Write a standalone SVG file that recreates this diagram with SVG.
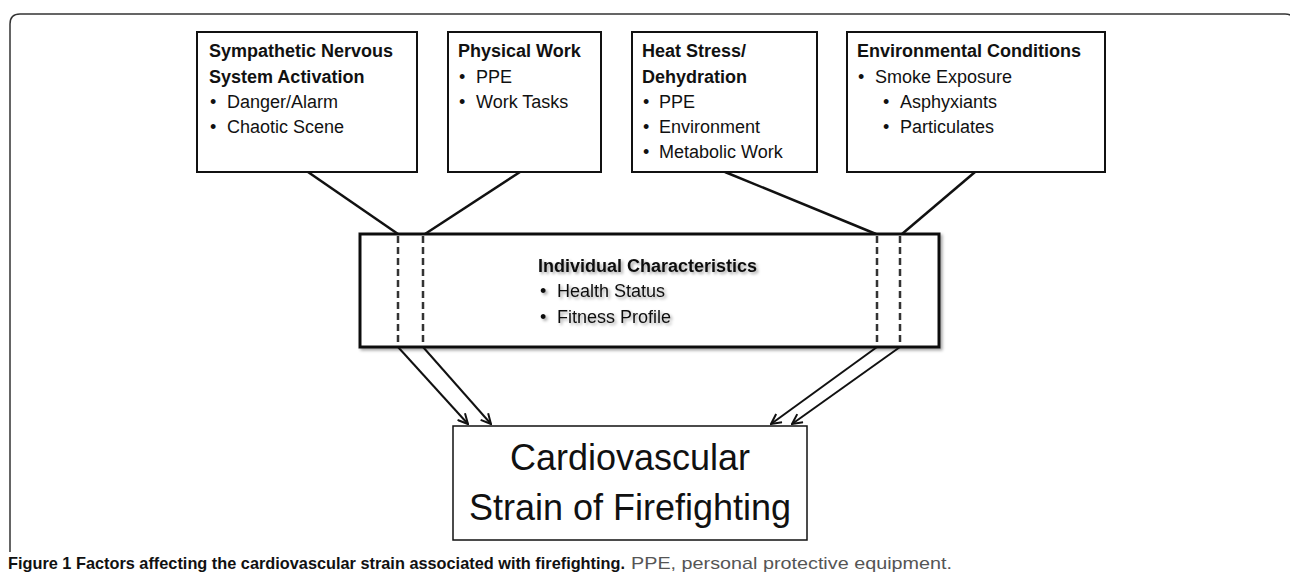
<svg xmlns="http://www.w3.org/2000/svg" width="1290" height="581" viewBox="0 0 1290 581">
<style>
  text { font-family: "Liberation Sans", Arial, sans-serif; fill: #111; }
  .t { font-size: 18px; }
  .b { font-weight: bold; }
  .box { fill: #fff; stroke: #111; stroke-width: 2; }
  .mid { fill: #fff; stroke: #111; stroke-width: 3; }
  .ln { stroke: #111; stroke-width: 2.5; fill: none; }
  .dash { stroke: #333; stroke-width: 2.5; stroke-dasharray: 7 4; fill: none; }
  .arr { stroke: #111; stroke-width: 2; fill: none; }
</style>
<defs>
  <filter id="sh" x="-10%" y="-10%" width="130%" height="140%">
    <feDropShadow dx="2" dy="2" stdDeviation="1.5" flood-color="#000" flood-opacity="0.35"/>
  </filter>
  <marker id="ah" viewBox="0 0 12 12" refX="11" refY="6" markerWidth="12" markerHeight="12" markerUnits="userSpaceOnUse" orient="auto">
    <path d="M1,1 L11,6 L1,11" fill="none" stroke="#111" stroke-width="2"/>
  </marker>
</defs>
<rect width="1290" height="581" fill="#fff"/>
<path d="M10,552 V24 Q10,14 20,14 H1285 Q1295,14 1295,24 V552" fill="none" stroke="#333" stroke-width="1.5"/>

<g id="connectors">
  <line class="ln" x1="308" y1="172" x2="398" y2="234"/>
  <line class="ln" x1="520" y1="172" x2="425" y2="234"/>
  <line class="ln" x1="725" y1="172" x2="876" y2="234"/>
  <line class="ln" x1="975" y1="172" x2="902" y2="234"/>
  <line class="arr" x1="398" y1="347" x2="468" y2="424" marker-end="url(#ah)"/>
  <line class="arr" x1="423" y1="347" x2="491" y2="424" marker-end="url(#ah)"/>
  <line class="arr" x1="877" y1="347" x2="771" y2="424" marker-end="url(#ah)"/>
  <line class="arr" x1="900" y1="347" x2="792" y2="424" marker-end="url(#ah)"/>
</g>

<g id="node-sympathetic">
  <rect class="box" x="197" y="32" width="220" height="140"/>
  <text class="t b" x="209" y="57">Sympathetic Nervous</text>
  <text class="t b" x="209" y="83">System Activation</text>
  <text class="t" x="210" y="108">•</text><text class="t" x="227" y="108">Danger/Alarm</text>
  <text class="t" x="210" y="133">•</text><text class="t" x="227" y="133">Chaotic Scene</text>
</g>

<g id="node-physical">
  <rect class="box" x="448" y="32" width="153" height="140"/>
  <text class="t b" x="458" y="57">Physical Work</text>
  <text class="t" x="459" y="83">•</text><text class="t" x="476" y="83">PPE</text>
  <text class="t" x="459" y="108">•</text><text class="t" x="476" y="108">Work Tasks</text>
</g>

<g id="node-heat">
  <rect class="box" x="632" y="32" width="185" height="140"/>
  <text class="t b" x="642" y="57">Heat Stress/</text>
  <text class="t b" x="642" y="83">Dehydration</text>
  <text class="t" x="643" y="108">•</text><text class="t" x="659" y="108">PPE</text>
  <text class="t" x="643" y="133">•</text><text class="t" x="659" y="133">Environment</text>
  <text class="t" x="643" y="158">•</text><text class="t" x="659" y="158">Metabolic Work</text>
</g>

<g id="node-environmental">
  <rect class="box" x="847" y="32" width="258" height="140"/>
  <text class="t b" x="857" y="57">Environmental Conditions</text>
  <text class="t" x="858" y="83">•</text><text class="t" x="875" y="83">Smoke Exposure</text>
  <text class="t" x="883" y="108">•</text><text class="t" x="900" y="108">Asphyxiants</text>
  <text class="t" x="883" y="133">•</text><text class="t" x="900" y="133">Particulates</text>
</g>

<g id="node-individual">
  <rect class="mid" x="360" y="234" width="579" height="113" filter="url(#sh)"/>
  <line class="dash" x1="398" y1="236" x2="398" y2="345"/>
  <line class="dash" x1="423" y1="236" x2="423" y2="345"/>
  <line class="dash" x1="877" y1="236" x2="877" y2="345"/>
  <line class="dash" x1="900" y1="236" x2="900" y2="345"/>
  <g filter="url(#sh)">
    <text class="t b" x="538" y="272">Individual Characteristics</text>
    <text class="t" x="540" y="297">•</text><text class="t" x="557" y="297">Health Status</text>
    <text class="t" x="540" y="323">•</text><text class="t" x="557" y="323">Fitness Profile</text>
  </g>
</g>

<g id="node-strain">
  <rect x="453" y="426" width="354" height="114" fill="#fff" stroke="#111" stroke-width="1.5"/>
  <text x="630" y="470" text-anchor="middle" font-size="36">Cardiovascular</text>
  <text x="630" y="520" text-anchor="middle" font-size="36">Strain of Firefighting</text>
</g>

<g id="caption">
  <text x="8" y="569" font-size="17" font-weight="bold" fill="#111" textLength="617" lengthAdjust="spacingAndGlyphs">Figure 1 Factors affecting the cardiovascular strain associated with firefighting.</text>
  <text x="631" y="569" font-size="17" style="fill:#555" textLength="321" lengthAdjust="spacingAndGlyphs">PPE, personal protective equipment.</text>
</g>
</svg>
